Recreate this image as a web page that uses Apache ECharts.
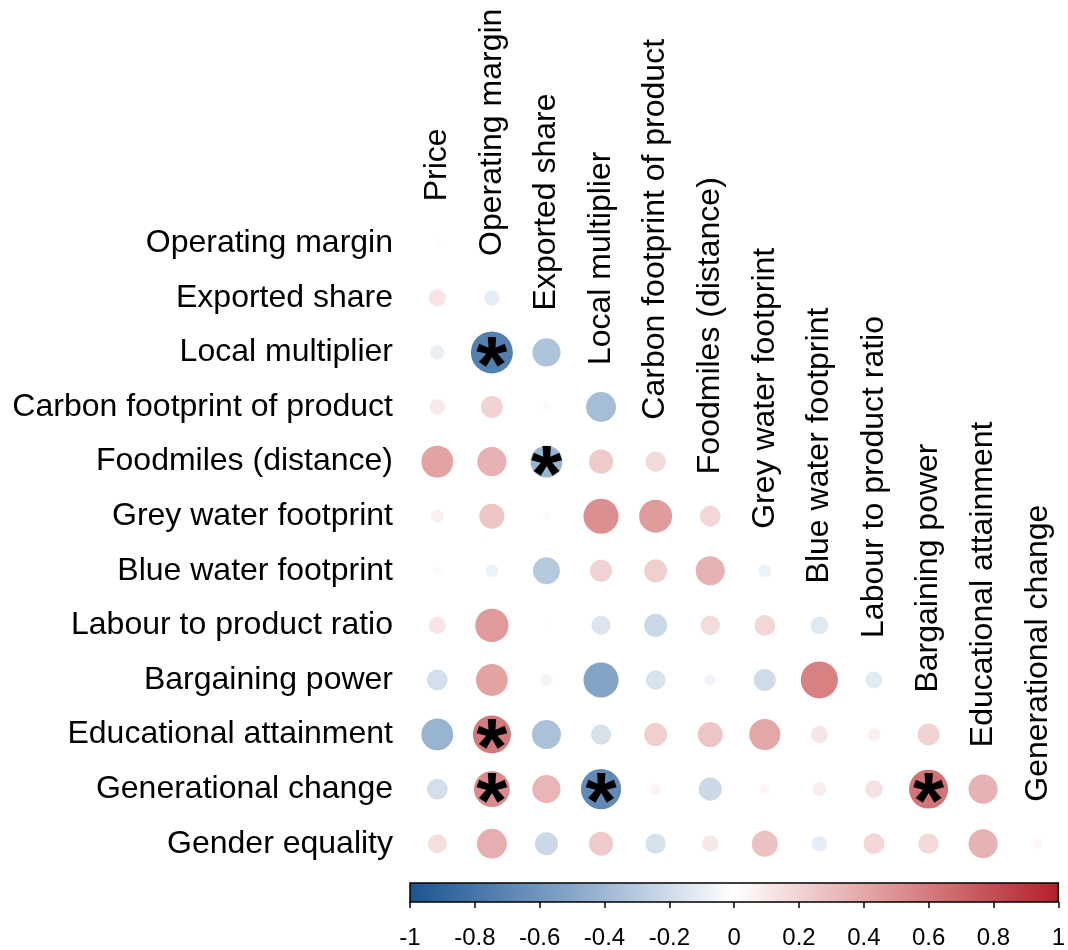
<!DOCTYPE html>
<html>
<head>
<meta charset="utf-8">
<script src="https://cdn.jsdelivr.net/npm/echarts@6/dist/echarts.min.js"></script>
<style>
  html, body { margin: 0; padding: 0; background: #ffffff; }
  #chart { width: 1068px; height: 950px; }
</style>
</head>
<body>
<div id="chart"></div>
<script>
// Variables shown down the left side (rows) and across the top (columns)
const rowLabels = [
  'Operating margin', 'Exported share', 'Local multiplier',
  'Carbon footprint of product', 'Foodmiles (distance)', 'Grey water footprint',
  'Blue water footprint', 'Labour to product ratio', 'Bargaining power',
  'Educational attainment', 'Generational change', 'Gender equality'
];
const colLabels = [
  'Price', 'Operating margin', 'Exported share', 'Local multiplier',
  'Carbon footprint of product', 'Foodmiles (distance)', 'Grey water footprint',
  'Blue water footprint', 'Labour to product ratio', 'Bargaining power',
  'Educational attainment', 'Generational change'
];

// Lower-triangle correlation coefficients, one array per row
const corr = [
  [0.02],
  [0.12, -0.10],
  [-0.09, -0.73, -0.33],
  [0.10, 0.20, -0.03, -0.37],
  [0.42, 0.35, -0.42, 0.24, 0.17],
  [0.07, 0.26, -0.02, 0.51, 0.45, 0.18],
  [-0.03, -0.07, -0.30, 0.20, 0.22, 0.35, -0.07],
  [0.12, 0.46, 0.01, -0.15, -0.22, 0.16, 0.18, -0.13],
  [-0.18, 0.42, -0.06, -0.51, -0.16, -0.06, -0.20, 0.57, -0.12],
  [-0.42, 0.60, -0.35, -0.17, 0.22, 0.26, 0.40, 0.12, 0.07, 0.20],
  [-0.18, 0.53, 0.33, -0.67, 0.05, -0.22, 0.04, 0.08, 0.13, 0.63, 0.35],
  [0.15, 0.37, -0.22, 0.24, -0.17, 0.11, 0.28, -0.10, 0.18, 0.17, 0.35, 0.04]
];

// Significant pairs [row, column], marked with an asterisk
const significant = [[2, 1], [4, 2], [9, 1], [10, 1], [10, 3], [10, 9]];

// Colour scale from -1 to 1
const scaleStops = [-1, -0.5, 0, 0.5, 1];
const scaleColors = ['#1a5491', '#86a6c8', '#ffffff', '#dd9192', '#b2202a'];

const FONT = '"Liberation Sans", Arial, Helvetica, sans-serif';

function hexToRgb(h) {
  return [parseInt(h.slice(1, 3), 16), parseInt(h.slice(3, 5), 16), parseInt(h.slice(5, 7), 16)];
}
function colorFor(v) {
  for (let k = 0; k < scaleStops.length - 1; k++) {
    if (v <= scaleStops[k + 1] || k === scaleStops.length - 2) {
      const t = Math.max(0, Math.min(1, (v - scaleStops[k]) / (scaleStops[k + 1] - scaleStops[k])));
      const a = hexToRgb(scaleColors[k]), b = hexToRgb(scaleColors[k + 1]);
      const c = a.map((x, i) => Math.round(x + (b[i] - x) * t));
      return 'rgb(' + c.join(',') + ')';
    }
  }
}

const isSig = (r, c) => significant.some(p => p[0] === r && p[1] === c);

const cells = [];
corr.forEach((row, r) => row.forEach((v, c) => cells.push([c, r, v, isSig(r, c) ? 1 : 0])));

const headerData = colLabels.map((name, j) => [j, j, name]);

const chart = echarts.init(document.getElementById('chart'), null, { renderer: 'canvas' });

chart.setOption({
  animation: false,
  backgroundColor: '#ffffff',
  textStyle: { fontFamily: FONT },
  grid: [
    { left: 410, top: 216, width: 655, height: 655 },
    { left: 410, top: 883, width: 654, height: 23 }
  ],
  xAxis: [
    { type: 'category', gridIndex: 0, data: colLabels, show: false },
    {
      type: 'value', gridIndex: 1, min: -1, max: 1, interval: 0.2,
      axisLine: { show: false },
      axisTick: { show: true, length: 6, lineStyle: { color: '#000', width: 1.5 } },
      splitLine: { show: false },
      axisLabel: {
        color: '#000', fontSize: 24, fontFamily: FONT, margin: 24,
        formatter: v => String(Math.round(v * 10) / 10)
      }
    }
  ],
  yAxis: [
    {
      type: 'category', gridIndex: 0, inverse: true, data: rowLabels,
      axisLine: { show: false }, axisTick: { show: false }, splitLine: { show: false },
      axisLabel: { color: '#000', fontSize: 32, fontFamily: FONT, margin: 17 }
    },
    { type: 'value', gridIndex: 1, min: 0, max: 1, show: false }
  ],
  series: [
    {
      // correlation circles: area proportional to |r|
      type: 'custom',
      xAxisIndex: 0, yAxisIndex: 0,
      data: cells,
      encode: { x: 0, y: 1 },
      renderItem: function (params, api) {
        const v = api.value(2);
        const p = api.coord([api.value(0), api.value(1)]);
        const size = api.size([1, 1]);
        const rad = 0.45 * Math.sqrt(Math.abs(v)) * size[0];
        const children = [{
          type: 'circle',
          shape: { cx: p[0], cy: p[1], r: rad },
          style: { fill: colorFor(v) }
        }];
        if (api.value(3) === 1) {
          children.push({
            type: 'text',
            x: p[0], y: p[1] + 17,
            style: {
              text: '*', fontSize: 80, fontWeight: 'bold', fontFamily: FONT,
              fill: '#000', align: 'center', verticalAlign: 'middle'
            }
          });
        }
        return { type: 'group', children: children };
      }
    },
    {
      // vertical column headers sitting above the diagonal
      type: 'custom',
      xAxisIndex: 0, yAxisIndex: 0,
      data: headerData,
      encode: { x: 0, y: 1 },
      clip: false,
      renderItem: function (params, api) {
        const p = api.coord([api.value(0), api.value(1)]);
        return {
          type: 'text',
          x: p[0], y: p[1] - 42,
          rotation: Math.PI / 2,
          style: {
            text: headerData[params.dataIndex][2],
            fontSize: 32, fontFamily: FONT, fill: '#000',
            align: 'left', verticalAlign: 'middle'
          }
        };
      }
    },
    {
      // colour bar
      type: 'custom',
      xAxisIndex: 1, yAxisIndex: 1,
      data: [[-1, 1]],
      encode: { x: 0, y: 1 },
      renderItem: function (params, api) {
        const a = api.coord([-1, 1]);
        const b = api.coord([1, 0]);
        const stops = scaleStops.map((s, i) => ({ offset: (s + 1) / 2, color: scaleColors[i] }));
        return {
          type: 'rect',
          shape: { x: a[0], y: a[1], width: b[0] - a[0], height: b[1] - a[1] },
          style: {
            fill: new echarts.graphic.LinearGradient(0, 0, 1, 0, stops),
            stroke: '#000', lineWidth: 1.5
          }
        };
      }
    }
  ]
});
</script>
</body>
</html>
